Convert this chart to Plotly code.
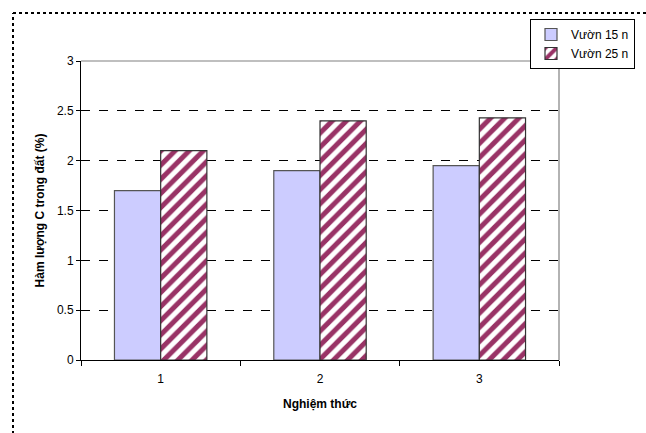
import plotly.graph_objects as go

categories = ["1", "2", "3"]
vuon15 = [1.70, 1.90, 1.95]
vuon25 = [2.10, 2.40, 2.43]
series_names = ["Vườn 15 n", "Vườn 25 n"]
y_ticks = [0, 0.5, 1, 1.5, 2, 2.5, 3]
y_ticklabels = ["0", "0.5", "1", "1.5", "2", "2.5", "3"]

L, R, T, B = 81, 87, 61, 73
W, H = 646, 433
PW, PH = W - L - R, H - T - B

def px_x(x):
    return (x - L) / PW

def px_y(y):
    return (H - B - y) / PH

fig = go.Figure()
fig.add_trace(go.Bar(
    x=categories, y=vuon15, name=series_names[0],
    marker=dict(color="#CCCCFF", line=dict(color="#555555", width=1.2)),
))
fig.add_trace(go.Bar(
    x=categories, y=vuon25, name=series_names[1],
    marker=dict(color="white", line=dict(color="#333333", width=1.2),
                pattern=dict(shape="/", fgcolor="#993366", bgcolor="white",
                             fgopacity=1, size=10, solidity=0.5)),
))

fig.update_layout(
    width=W, height=H,
    margin=dict(l=L, r=R, t=T, b=B, autoexpand=False),
    paper_bgcolor="white", plot_bgcolor="white",
    barmode="group", bargap=0.42, bargroupgap=0,
    font=dict(family="Arial, Liberation Sans, sans-serif", size=12, color="black"),
    showlegend=True,
    legend=dict(
        x=px_x(530), y=px_y(19), xanchor="left", yanchor="top",
        xref="paper", yref="paper",
        bgcolor="white", bordercolor="black", borderwidth=1,
        font=dict(size=12), itemwidth=30, tracegroupgap=1,
    ),
    xaxis=dict(
        type="category", showgrid=False, automargin=False,
        showline=True, linecolor="black", linewidth=1,
        ticks="outside", ticklen=5, tickcolor="black", tickson="boundaries",
        ticklabelstandoff=8,
        title=dict(text="<b>Nghiệm thức</b>", font=dict(size=12), standoff=14),
        mirror=False,
    ),
    yaxis=dict(
        range=[0, 3], tickvals=y_ticks, ticktext=y_ticklabels, automargin=False,
        showline=True, linecolor="black", linewidth=1,
        ticks="outside", ticklen=4, tickcolor="black",
        showgrid=True, gridcolor="black", griddash="dash", gridwidth=1,
        zeroline=False,
        title=dict(text="<b>Hàm lượng C trong đất (%)</b>", font=dict(size=12), standoff=9),
    ),
    shapes=[
        dict(type="line", xref="paper", yref="paper", x0=0, x1=1, y0=1, y1=1,
             line=dict(color="#808080", width=1.2), layer="above"),
        dict(type="line", xref="paper", yref="paper", x0=1, x1=1, y0=0, y1=1,
             line=dict(color="#808080", width=1.2), layer="above"),
        dict(type="line", xref="paper", yref="paper", x0=px_x(13), x1=px_x(660), y0=px_y(13), y1=px_y(13),
             line=dict(color="black", width=2, dash="dot")),
        dict(type="line", xref="paper", yref="paper", x0=px_x(13), x1=px_x(13), y0=px_y(440), y1=px_y(13),
             line=dict(color="black", width=2, dash="dot")),
    ],
)

fig.write_html("out.html", config={"displayModeBar": False},
               post_script="document.body.style.margin='0';")
